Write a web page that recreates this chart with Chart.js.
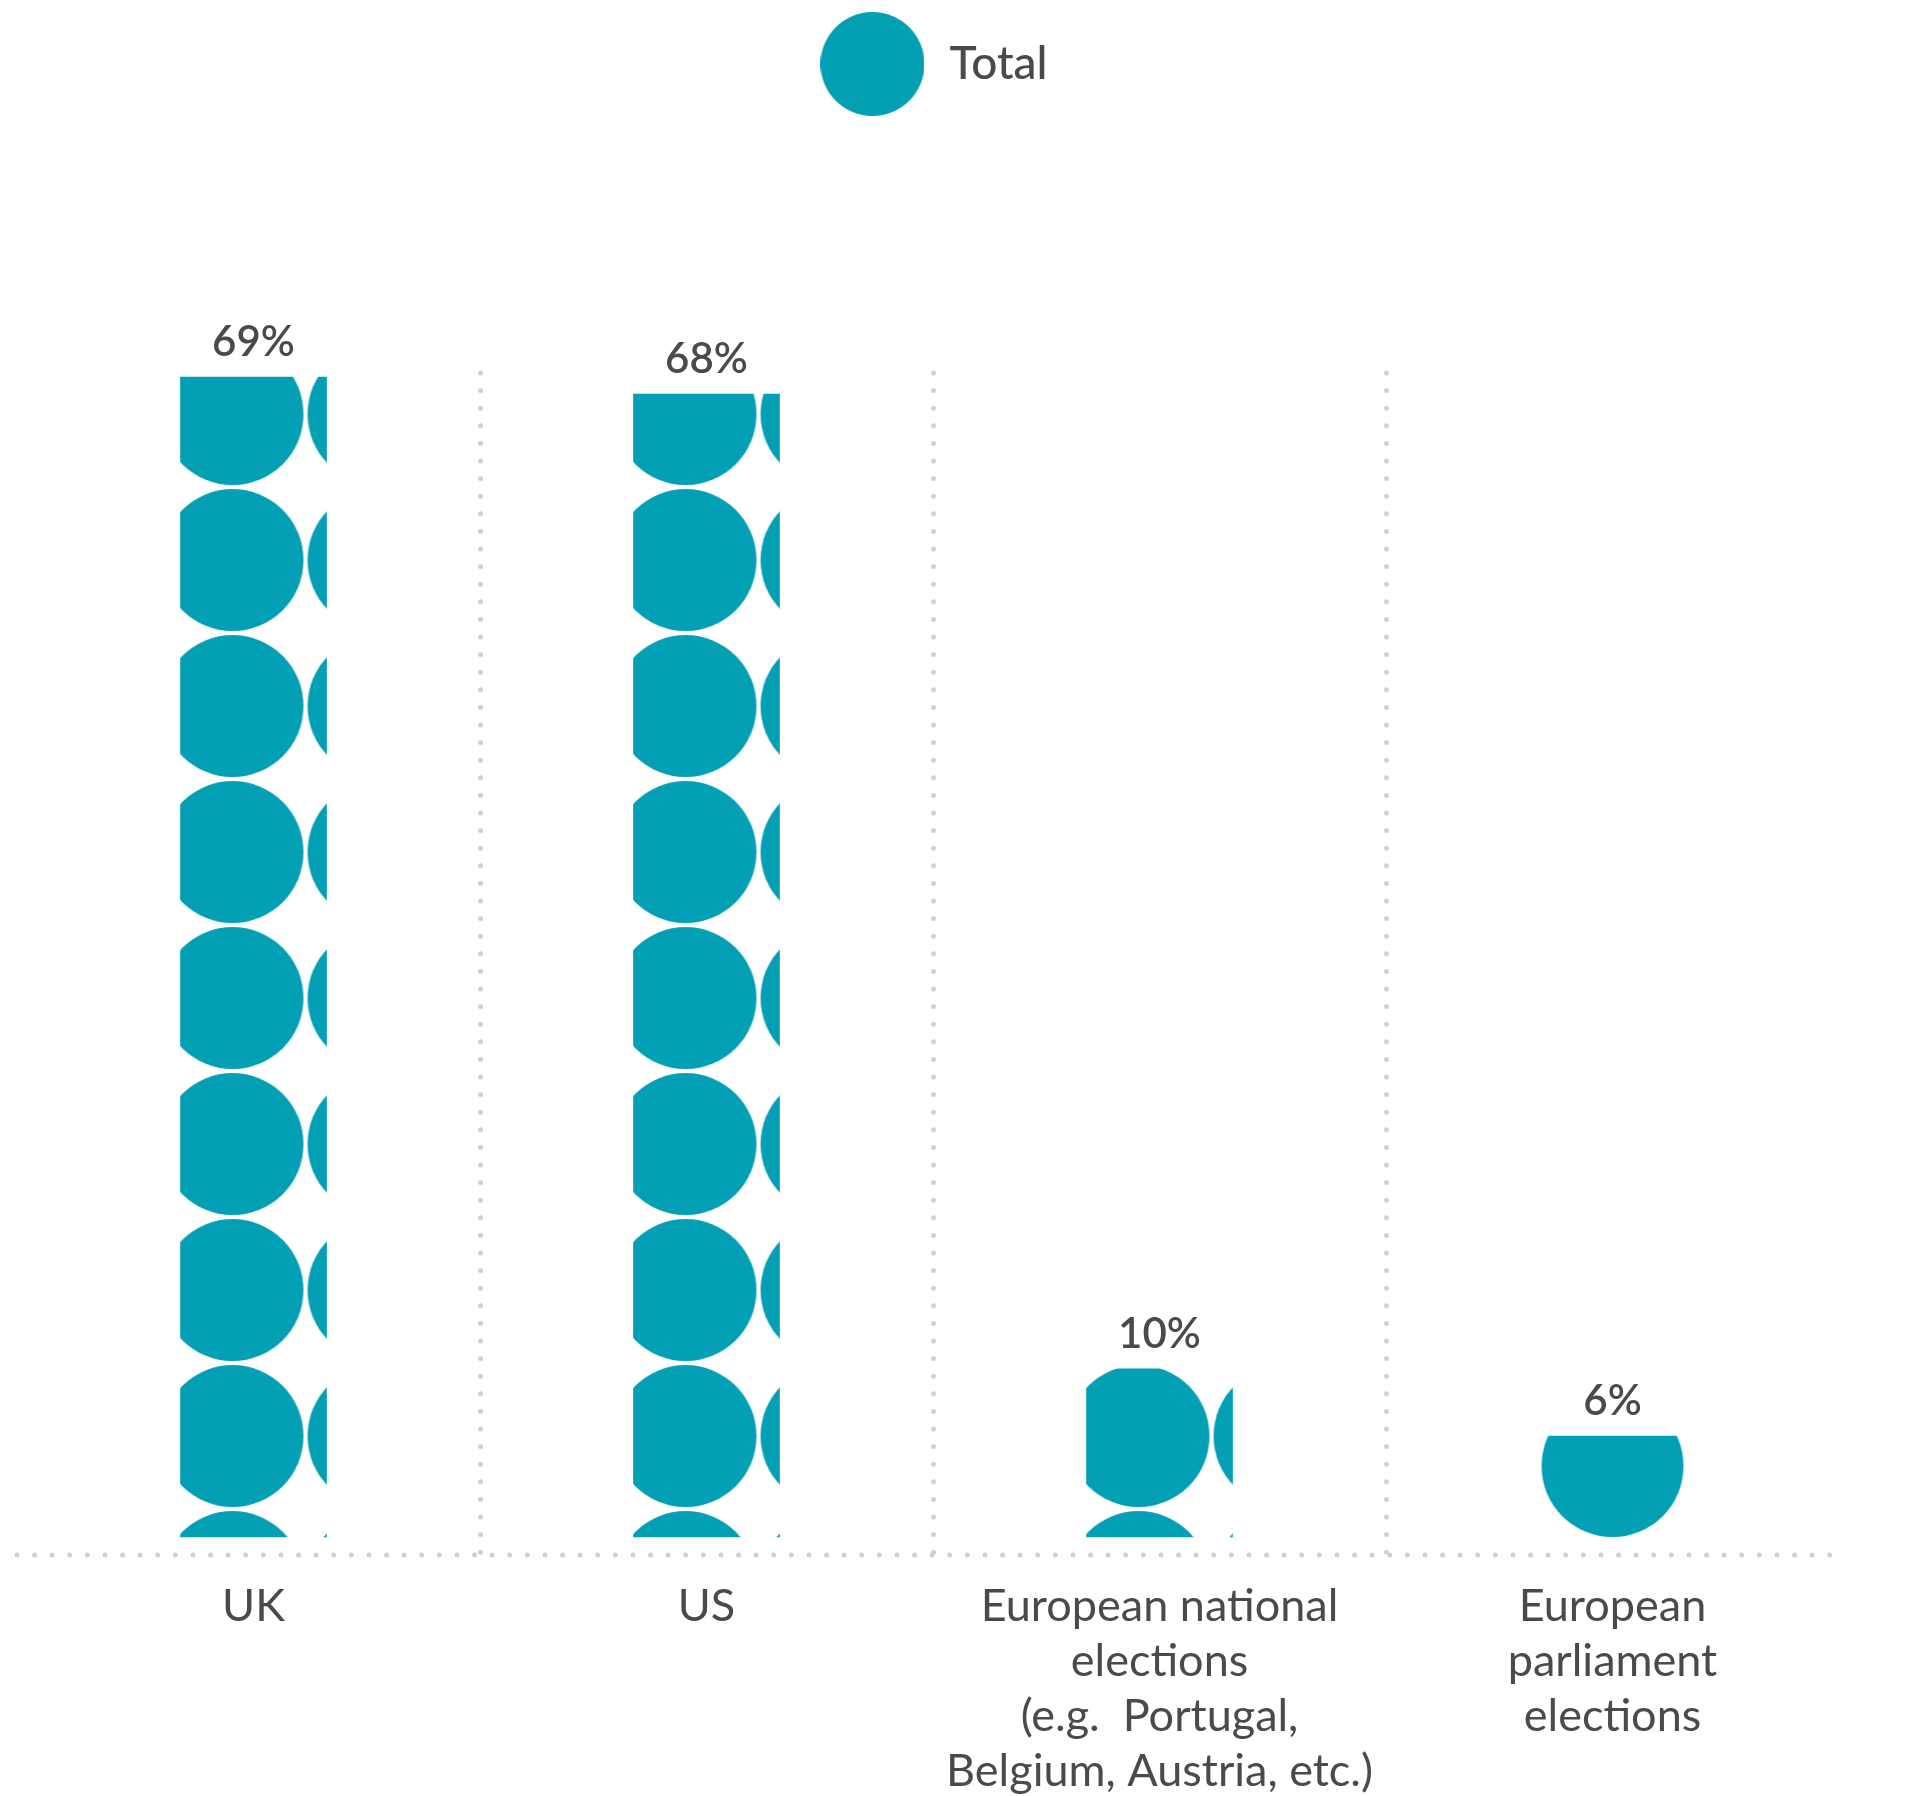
<!DOCTYPE html>
<html>
<head>
<meta charset="utf-8">
<title>Total</title>
<script src="https://cdn.jsdelivr.net/npm/chart.js@4.4.1/dist/chart.umd.min.js"></script>
<style>
  html, body { margin: 0; padding: 0; background: #fff; }
  #wrap { width: 1905px; height: 1796px; }
</style>
</head>
<body>
<div id="wrap"><canvas id="poll-chart" width="1905" height="1796"></canvas></div>
<script>
const categories = [
    ['UK'],
    ['US'],
    ['European national', 'elections', '(e.g.  Portugal,', 'Belgium, Austria, etc.)'],
    ['European', 'parliament', 'elections']
];
const seriesName = 'Total';
const totals = [69, 68, 10, 6];

const teal = '#039fb4';
const ink = '#4a4a4a';
const dotGrey = '#d3d0cc';
const DOT = 146;        // size of one pattern tile
const R = 71;           // radius of each dot
const plotTop = 373;

// one dot per tile, repeated to fill the bars
const tile = document.createElement('canvas');
tile.width = DOT;
tile.height = DOT;
const tctx = tile.getContext('2d');
tctx.fillStyle = teal;
tctx.beginPath();
tctx.arc(DOT / 2, DOT / 2, R, 0, Math.PI * 2);
tctx.fill();

// big round legend marker
const legendDot = document.createElement('canvas');
legendDot.width = 104;
legendDot.height = 104;
const lctx = legendDot.getContext('2d');
lctx.fillStyle = teal;
lctx.beginPath();
lctx.arc(52, 52, 52, 0, Math.PI * 2);
lctx.fill();

function dotFill(c) {
    const chart = c.chart;
    const xs = chart.scales.x, ys = chart.scales.y;
    if (c.type !== 'data' || !chart.chartArea || !xs || !ys) return teal;
    const cx = xs.getPixelForValue(c.dataIndex);
    const base = ys.getPixelForValue(0);
    const top = ys.getPixelForValue(c.raw);
    let tx, ty;
    if (base - top < DOT) {
        // short bar: a single dot sitting on the baseline
        tx = cx - DOT / 2;
        ty = base - R - DOT / 2;
    } else {
        tx = cx - 21 - DOT / 2;
        ty = base - 101 - DOT / 2;
    }
    const pattern = chart.ctx.createPattern(tile, 'repeat');
    pattern.setTransform(new DOMMatrix([1, 0, 0, 1, tx, ty]));
    return pattern;
}

const roundCaps = {
    id: 'roundCaps',
    beforeDraw(chart) {
        chart.ctx.lineCap = 'round';
    }
};

// the legend clips to its box, which is shorter than the marker
const roomyLegend = {
    id: 'roomyLegend',
    afterLayout(chart) {
        chart.legend.bottom += 30;
        chart.legend.height += 30;
    }
};

const dottedBaseline = {
    id: 'dottedBaseline',
    beforeDatasetsDraw(chart) {
        const {ctx, chartArea: a} = chart;
        ctx.save();
        ctx.strokeStyle = dotGrey;
        ctx.lineWidth = 5;
        ctx.lineCap = 'round';
        ctx.setLineDash([0, 17.6]);
        ctx.beginPath();
        ctx.moveTo(a.left - 10, a.bottom);
        ctx.lineTo(a.right + 2, a.bottom);
        ctx.stroke();
        ctx.restore();
    }
};

const valueLabels = {
    id: 'valueLabels',
    afterDatasetsDraw(chart) {
        const ctx = chart.ctx;
        const meta = chart.getDatasetMeta(0);
        ctx.save();
        ctx.font = '600 42px Lato, sans-serif';
        ctx.fillStyle = ink;
        ctx.textAlign = 'center';
        ctx.textBaseline = 'alphabetic';
        meta.data.forEach((bar, i) => {
            ctx.fillText(totals[i] + '%', bar.x, bar.y - 21);
        });
        ctx.restore();
    }
};

Chart.defaults.font.family = 'Lato, sans-serif';
Chart.defaults.color = ink;

const pollChart = new Chart(document.getElementById('poll-chart').getContext('2d'), {
    type: 'bar',
    data: {
        labels: categories,
        datasets: [{
            label: seriesName,
            data: totals,
            backgroundColor: dotFill,
            borderWidth: 0,
            barThickness: DOT,
            xAxisID: 'x',
            yAxisID: 'y',
        }],
    },
    options: {
        responsive: false,
        animation: false,
        layout: {
            padding: {top: 0, left: 27, right: 66, bottom: 0},
        },
        plugins: {
            tooltip: {enabled: false},
            legend: {
                display: true,
                position: 'top',
                labels: {
                    usePointStyle: true,
                    pointStyle: legendDot,
                    pointStyleWidth: 108,
                    padding: 41,
                    color: ink,
                    font: {size: 46, weight: '500'},
                },
            },
        },
        scales: {
            x: {
                type: 'category',
                position: 'bottom',
                grid: {
                    offset: true,
                    drawTicks: false,
                    lineWidth: 5,
                    color: (c) => (c.type !== 'tick' || c.index === 0) ? 'rgba(0,0,0,0)' : dotGrey,
                },
                border: {display: false, dash: [0, 17.6]},
                ticks: {
                    color: ink,
                    padding: 24,
                    font: {size: 45, lineHeight: 1.22},
                    maxRotation: 0,
                    autoSkip: false,
                },
                afterFit(s) { s.height = 241; },
            },
            gap: {
                type: 'category',
                axis: 'x',
                position: 'top',
                display: true,
                grid: {display: false},
                border: {display: false},
                ticks: {display: false},
                afterFit(s) { s.height = Math.max(0, plotTop - s.chart.legend.height); },
            },
            y: {
                display: false,
                min: -1.07,
                max: 69.25,
            },
        },
    },
    plugins: [roundCaps, roomyLegend, dottedBaseline, valueLabels],
});
</script>
</body>
</html>
